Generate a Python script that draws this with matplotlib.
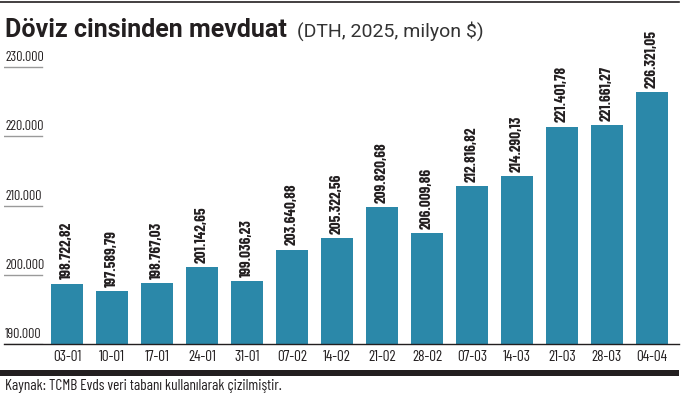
import matplotlib
matplotlib.use("Agg")
import matplotlib.pyplot as plt
from matplotlib.patches import Rectangle
from matplotlib.lines import Line2D

W, H = 686, 398
DARK = "#231f20"
BAR = "#2b88a9"
GRID = "#9a9a9a"
NARROW = ["Barlow Condensed", "Roboto Condensed", "DejaVu Sans"]
SANS = ["Roboto", "DejaVu Sans"]

dates = ["03-01", "10-01", "17-01", "24-01", "31-01", "07-02", "14-02",
         "21-02", "28-02", "07-03", "14-03", "21-03", "28-03", "04-04"]
values = [198722.82, 197589.79, 198767.03, 201142.65, 199036.23, 203640.88,
          205322.56, 209820.68, 206009.86, 212816.82, 214290.13, 221401.78,
          221661.27, 226321.05]
yticks = [190000, 200000, 210000, 220000, 230000]


def tr(v, dec=2):
    s = f"{v:,.{dec}f}"
    return s.replace(",", "X").replace(".", ",").replace("X", ".")


fig = plt.figure(figsize=(W / 100, H / 100), dpi=100)

# axes placed in pixel terms: x 4..679, y 40..344 (from top)
ax_left, ax_right, ax_top, ax_bot = 4, 679, 40, 344
ax = fig.add_axes([ax_left / W, 1 - ax_bot / H,
                   (ax_right - ax_left) / W, (ax_bot - ax_top) / H])
px_per = 69.25 / 10000
ax.set_ylim(190000, 190000 + (ax_bot - ax_top) / px_per)
c0, step = 67, 45
ax.set_xlim((ax_left - c0) / step, (ax_right - c0) / step)

x = list(range(len(dates)))
ax.bar(x, [v - 190000 for v in values], bottom=190000, width=0.73,
       color=BAR, zorder=2)

for xi, v in zip(x, values):
    ax.annotate(tr(v), (xi, v), xytext=(0, 3), textcoords="offset points",
                rotation=90, ha="center", va="bottom", fontsize=11,
                fontweight="bold", color=DARK, family=NARROW)

gx = (42 - ax_left) / (ax_right - ax_left)
for t in yticks:
    ax.axhline(t, xmin=0, xmax=gx, color=GRID, lw=1.0, zorder=1)
    ax.annotate(tr(t, 0), (0.002, t), xycoords=("axes fraction", "data"),
                xytext=(0, 2), textcoords="offset points", ha="left",
                va="bottom", fontsize=10, color=DARK, family=NARROW)

ax.axhline(190000, color=DARK, lw=1.0, zorder=3, clip_on=False)
ax.set_xticks(x)
ax.set_xticklabels(dates, fontsize=11, color=DARK, family=NARROW)
ax.tick_params(axis="x", length=0, pad=4)
ax.set_yticks([])
for s in ax.spines.values():
    s.set_visible(False)

# title
fig.text(5 / W, 1 - 37 / H, "Döviz cinsinden mevduat", fontsize=18,
         fontweight="bold", family=SANS, color=DARK,
         va="baseline", ha="left")
fig.text(297 / W, 1 - 37 / H, "(DTH, 2025, milyon $)", fontsize=14,
         family=SANS, color="#333333", va="baseline", ha="left")

# top rule and bottom band
fig.add_artist(Line2D([0, 679 / W], [1 - 1.5 / H] * 2, color=DARK, lw=1.2,
                      transform=fig.transFigure))
fig.add_artist(Rectangle((0, 1 - 376 / H), 679 / W, 6 / H, color=DARK,
                         transform=fig.transFigure, lw=0))

fig.text(5 / W, 1 - 386 / H,
         "Kaynak: TCMB Evds veri tabanı kullanılarak çizilmiştir.",
         fontsize=11, family=NARROW, color=DARK, va="center", ha="left")

fig.savefig("out.png", dpi=100)
